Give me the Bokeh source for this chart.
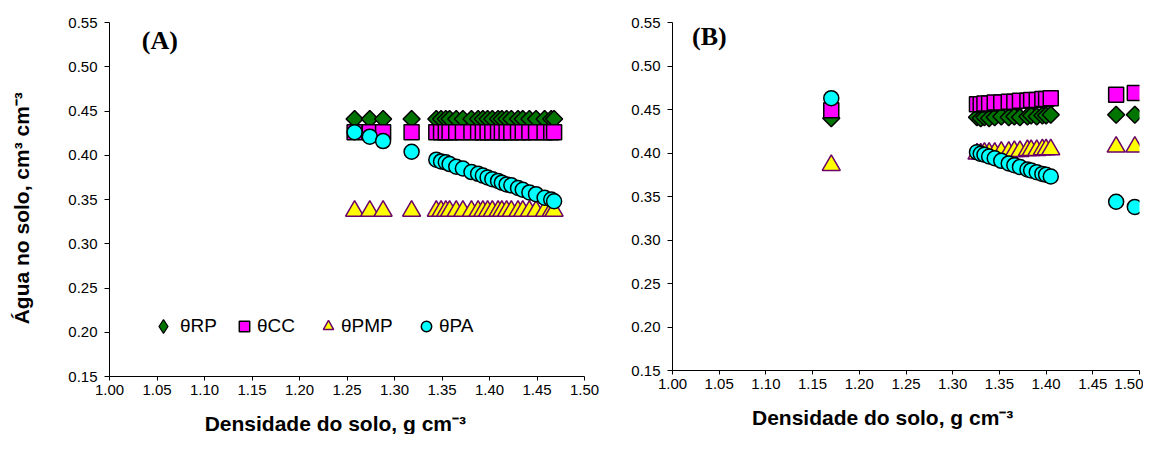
import math
from bokeh.plotting import figure
from bokeh.models import Range1d, FixedTicker, NumeralTickFormatter, Legend, LegendItem, Label
from bokeh.layouts import row
from bokeh.embed import file_html
from bokeh.resources import INLINE

# ---------------- data ----------------
x_ticks = [1.00, 1.05, 1.10, 1.15, 1.20, 1.25, 1.30, 1.35, 1.40, 1.45, 1.50]
y_ticks = [0.15, 0.20, 0.25, 0.30, 0.35, 0.40, 0.45, 0.50, 0.55]
series_names = ["θRP", "θCC", "θPMP", "θPA"]

# Panel A
dens_A = [1.258, 1.274, 1.288, 1.318, 1.344, 1.349, 1.354, 1.358, 1.365, 1.372,
          1.381, 1.388, 1.393, 1.398, 1.403, 1.409, 1.413, 1.418, 1.423, 1.430,
          1.435, 1.442, 1.449, 1.458, 1.465, 1.468]
rp_A = [0.441, 0.441, 0.441, 0.441, 0.441, 0.441, 0.441, 0.441, 0.441, 0.441,
        0.441, 0.441, 0.441, 0.441, 0.441, 0.441, 0.441, 0.441, 0.441, 0.441,
        0.441, 0.441, 0.441, 0.441, 0.441, 0.441]
cc_A = [0.426, 0.426, 0.426, 0.426, 0.426, 0.426, 0.426, 0.426, 0.426, 0.426,
        0.426, 0.426, 0.426, 0.426, 0.426, 0.426, 0.426, 0.426, 0.426, 0.426,
        0.426, 0.426, 0.426, 0.426, 0.426, 0.426]
pmp_A = [0.337, 0.337, 0.337, 0.337, 0.337, 0.337, 0.337, 0.337, 0.337, 0.337,
         0.337, 0.337, 0.337, 0.337, 0.337, 0.337, 0.337, 0.337, 0.337, 0.337,
         0.337, 0.337, 0.337, 0.337, 0.337, 0.337]
pa_A = [0.426, 0.421, 0.416, 0.404, 0.395, 0.393, 0.392, 0.390, 0.387, 0.385,
        0.381, 0.379, 0.377, 0.375, 0.373, 0.371, 0.369, 0.367, 0.366, 0.363,
        0.361, 0.358, 0.356, 0.352, 0.350, 0.348]

# Panel B
dens_B = [1.170, 1.326, 1.330, 1.334, 1.339, 1.345, 1.352, 1.360, 1.366, 1.372,
          1.380, 1.384, 1.390, 1.396, 1.400, 1.405, 1.475, 1.495]
rp_B = [0.440, 0.441, 0.440, 0.441, 0.440, 0.441, 0.442, 0.441, 0.442, 0.441,
        0.442, 0.443, 0.442, 0.443, 0.443, 0.444, 0.444, 0.444]
cc_B = [0.449, 0.456, 0.456, 0.457, 0.457, 0.458, 0.458, 0.459, 0.459, 0.460,
        0.460, 0.461, 0.461, 0.462, 0.462, 0.463, 0.467, 0.469]
pmp_B = [0.386, 0.399, 0.399, 0.400, 0.400, 0.400, 0.401, 0.401, 0.402, 0.402,
         0.403, 0.403, 0.403, 0.404, 0.404, 0.404, 0.407, 0.407]
pa_B = [0.463, 0.401, 0.399, 0.398, 0.396, 0.394, 0.391, 0.388, 0.386, 0.384,
        0.381, 0.380, 0.378, 0.376, 0.375, 0.373, 0.344, 0.338]

# ---------------- style ----------------
FONT = "Liberation Sans"
C_RP = "#007400"
C_CC = "#FF00FF"
C_PMP = "#FFFF00"
C_PMP_LINE = "#6A006A"
C_PA = "#00FFFF"
NB = "\u00a0"
XLABEL = "Densidade do solo, g cm⁻³"
YLABEL = "Água no solo, cm³ cm⁻³"


def make_panel(dens, rp, cc, pmp, pa, frame_w, frame_h, left, top, right, bottom,
               ylabel, panel_label, plabel_xy, xlabel_pad, with_legend):
    p = figure(frame_width=frame_w, frame_height=frame_h,
               min_border_left=left, min_border_top=top,
               min_border_right=right, min_border_bottom=bottom,
               x_range=Range1d(1.0, 1.5), y_range=Range1d(0.15, 0.55),
               output_backend="svg", toolbar_location=None)
    p.outline_line_color = None
    p.xgrid.grid_line_color = None
    p.ygrid.grid_line_color = None
    p.background_fill_color = "white"
    p.border_fill_color = "white"

    for ax, ticks in ((p.xaxis[0], x_ticks), (p.yaxis[0], y_ticks)):
        ax.ticker = FixedTicker(ticks=ticks, minor_ticks=[])
        ax.formatter = NumeralTickFormatter(format="0.00")
        ax.axis_line_color = "black"
        ax.axis_line_width = 1
        ax.major_tick_line_color = "black"
        ax.major_tick_in = 0
        ax.minor_tick_line_color = None
        ax.major_label_text_font = FONT
        ax.major_label_text_font_size = "15px"
        ax.major_label_text_color = "black"
    p.xaxis[0].major_tick_out = 4
    p.xaxis[0].major_label_standoff = 4
    p.yaxis[0].major_tick_out = 5
    p.yaxis[0].major_label_standoff = 7

    if ylabel:
        p.yaxis[0].axis_label = ylabel + NB * 3
        p.yaxis[0].axis_label_text_font = FONT
        p.yaxis[0].axis_label_text_font_size = "21px"
        p.yaxis[0].axis_label_text_font_style = "bold"
        p.yaxis[0].axis_label_text_color = "black"
        p.yaxis[0].axis_label_standoff = 32

    xa = p.xaxis[0]
    xa.axis_label = XLABEL + NB * xlabel_pad
    xa.axis_label_text_font = FONT
    xa.axis_label_text_font_size = "21px"
    xa.axis_label_text_font_style = "bold"
    xa.axis_label_text_color = "black"
    xa.axis_label_standoff = 14

    # diamond renderer lying under the rotated squares, used for the legend swatch
    r_rp_leg = p.scatter(dens, rp, marker="diamond", size=10,
                         fill_color=C_RP, line_color="black", line_width=1.2)
    r_rp = p.scatter(dens, rp, marker="square", size=12, angle=math.pi / 4,
                     fill_color=C_RP, line_color="black", line_width=1.5)
    r_cc = p.scatter(dens, cc, marker="square", size=15,
                     fill_color=C_CC, line_color="black", line_width=1.5)
    r_pmp = p.scatter(dens, pmp, marker="triangle", size=18,
                      fill_color=C_PMP, line_color=C_PMP_LINE, line_width=1.5)
    r_pa = p.scatter(dens, pa, marker="circle", size=15,
                     fill_color=C_PA, line_color="black", line_width=1.5)

    p.add_layout(Label(x=plabel_xy[0], y=plabel_xy[1], text=panel_label,
                       text_font="Liberation Serif", text_font_size="26px",
                       text_font_style="bold", text_color="black",
                       text_align="left", text_baseline="middle"))

    if with_legend:
        specs = [
            (series_names[0], r_rp_leg, 34, (37, 33)),
            (series_names[1], r_cc, 26, (122, 37)),
            (series_names[2], r_pmp, 26, (206, 37)),
            (series_names[3], r_pa, 26, (304, 37)),
        ]
        for name, rend, g, loc in specs:
            lg = Legend(items=[LegendItem(label=name, renderers=[rend])],
                        location=loc, orientation="horizontal",
                        glyph_width=g, glyph_height=g, label_standoff=0,
                        padding=0, margin=0, spacing=0,
                        border_line_color=None, background_fill_alpha=0,
                        label_text_font=FONT, label_text_font_size="19px",
                        label_text_color="black")
            p.add_layout(lg, "center")
    return p


pA = make_panel(dens_A, rp_A, cc_A, pmp_A, pa_A,
                frame_w=475, frame_h=354, left=109, top=15, right=23, bottom=65,
                ylabel=YLABEL, panel_label="(A)",
                plabel_xy=(1.034, 0.530), xlabel_pad=4, with_legend=True)
pB = make_panel(dens_B, rp_B, cc_B, pmp_B, pa_B,
                frame_w=467, frame_h=348, left=65, top=22, right=4, bottom=64,
                ylabel=None, panel_label="(B)",
                plabel_xy=(1.021, 0.534), xlabel_pad=8, with_legend=False)

layout = row(pA, pB)
open("out.html", "w").write(file_html(layout, INLINE))
